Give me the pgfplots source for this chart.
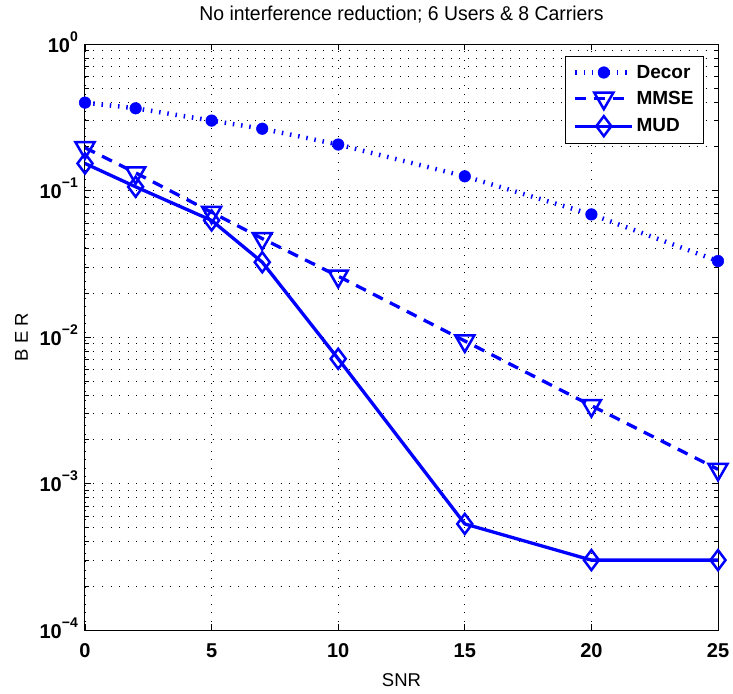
\documentclass[border=0pt]{standalone}
\usepackage{pgfplots}
\pgfplotsset{compat=1.18}
\usepackage{fontspec}
\setmainfont{Liberation Sans}
\newfontfamily\condfont[FakeStretch=0.97]{Liberation Sans}
\newcommand{\tl}[1]{10\raisebox{11pt}{\fontsize{14}{14}\selectfont\bfseries #1}}
\begin{document}
\begin{tikzpicture}
\begin{axis}[
  name=ax,
  scale only axis,
  width=633pt, height=586pt,
  xmin=0, xmax=25,
  ymode=log, ymin=1e-4, ymax=1,
  xtick={0,5,10,15,20,25},
  ytick={1e-4,1e-3,1e-2,1e-1,1},
  yticklabels={\tl{−4},\tl{−3},\tl{−2},\tl{−1},\tl{0}},
  /pgf/number format/assume math mode=true,
  ticklabel style={font=\fontsize{20}{22}\selectfont\bfseries},
  xticklabel style={anchor=base, yshift=-27pt, inner sep=0pt},
  yticklabel style={anchor=base east, yshift=-8pt, xshift=-7pt, inner sep=0pt},
  tick align=inside,
  major tick length=6pt, minor tick length=4pt,
  xmajorgrids, ymajorgrids, yminorgrids,
  grid style={black, line width=0.8pt, dash pattern=on 0.9pt off 7.6pt},
  minor grid style={black, line width=0.8pt, dash pattern=on 0.9pt off 7.6pt},
  axis line style={black, line width=1pt},
  tick style={black, line width=0.8pt},
  title={No interference reduction; 6 Users \& 8 Carriers},
  title style={font=\condfont\fontsize{20}{22}\selectfont, at={(axis description cs:0.5,1)}, anchor=base, yshift=18pt, inner sep=0pt},
  xlabel={SNR}, ylabel={B E R},
  label style={font=\fontsize{18.5}{20}\selectfont},
  xlabel style={at={(axis description cs:0.5,0)}, anchor=base, yshift=-56pt, inner sep=0pt},
  ylabel style={at={(axis description cs:0,0.5)}, anchor=base, yshift=57pt, inner sep=0pt},
  legend image code/.code={\draw[mark repeat=2,mark phase=2,#1] plot coordinates {(0pt,0pt)(28.5pt,0pt)(57pt,0pt)};},
  legend style={at={(0.978,0.98)}, anchor=north east, font=\fontsize{19}{21}\selectfont\bfseries, draw=black, line width=1pt, inner xsep=8pt, inner ysep=7pt, row sep=7pt, cells={anchor=west}, nodes={inner sep=2pt}},
  legend cell align=left,
]
\addplot[blue, line width=4.5pt, dash pattern=on 1.5pt off 6.8pt, mark=*, mark size=5.8pt, mark options={solid, fill=blue, line width=0.5pt}]
coordinates {(0,0.398) (2,0.364) (5,0.30) (7,0.264) (10,0.206) (15,0.125) (20,0.0687) (25,0.033)};
\addlegendentry{Decor}
\addplot[blue, line width=3.3pt, dash pattern=on 11pt off 8pt, mark=triangle, mark size=11pt, mark options={solid, rotate=180, line width=2.5pt}]
coordinates {(0,0.196) (2,0.132) (5,0.071) (7,0.047) (10,0.026) (15,0.0094) (20,0.0034) (25,0.00125)};
\addlegendentry{MMSE}
\addplot[blue, line width=3.3pt, mark=diamond, mark size=10pt, mark options={solid, line width=2.5pt}]
coordinates {(0,0.153) (2,0.106) (5,0.0625) (7,0.0324) (10,0.0071) (15,0.00053) (20,0.0003) (25,0.00030)};
\addlegendentry{MUD}
\end{axis}
\pgfresetboundingbox
\path ([xshift=-85pt,yshift=-63pt]ax.south west) ([xshift=15pt,yshift=44pt]ax.north east);
\end{tikzpicture}
\end{document}
